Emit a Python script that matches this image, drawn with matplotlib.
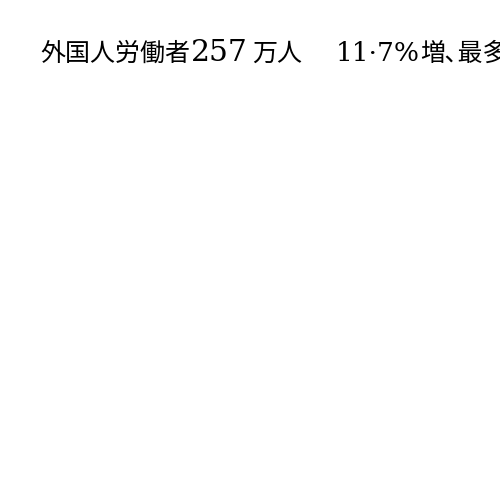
import matplotlib
matplotlib.use('Agg')
import matplotlib.pyplot as plt

# タイトル文字列 (右端で切れている)
pieces = ['外国人労働者', '257', '万人', '11·7%', '増､最多']
# 明朝体が無いので、漢字はNoto、数字はDejaVu Serifで代用
piece_font = ['Noto Sans CJK JP', 'DejaVu Serif', 'Noto Sans CJK JP',
              'DejaVu Serif', 'Noto Sans CJK JP']
piece_size = [18, 21.5, 18, 19, 18]
piece_x = [40, 191, 252, 336, 420]   # 左端 (px)

W = H = 500
baseline = 61

fig = plt.figure(figsize=(5, 5), dpi=100)
fig.patch.set_facecolor('white')
for txt, fam, sz, x in zip(pieces, piece_font, piece_size, piece_x):
    fig.text(x / W, 1 - baseline / H, txt, ha='left', va='baseline',
             fontsize=sz, color='black', family=[fam, 'DejaVu Sans'])
fig.savefig('out.png', dpi=100)
